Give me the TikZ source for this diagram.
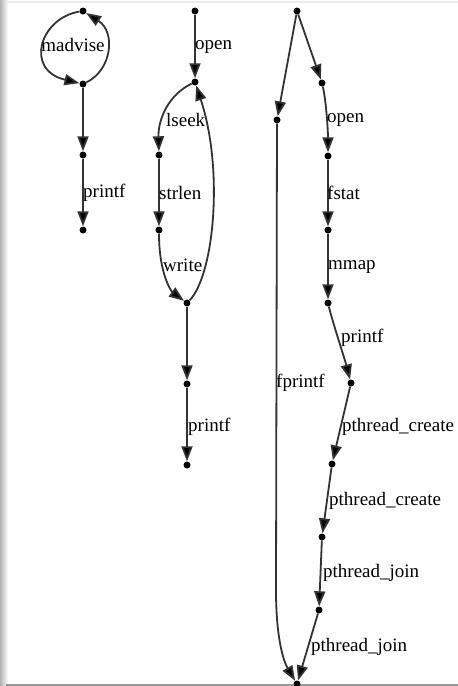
\documentclass[tikz,border=0pt]{standalone}
\usepackage{fontspec}
\setmainfont{Liberation Serif}
\usetikzlibrary{arrows.meta}
\begin{document}
\begin{tikzpicture}[x=1pt,y=-1pt,
  dot/.style={circle,fill=black,inner sep=0pt,minimum size=7pt},
  edge/.style={draw=black!80,line width=1.8pt,
    -{Triangle[length=15pt,width=11pt,fill=black]}},
  lbl/.style={anchor=west,inner sep=0pt,font=\fontsize{19}{21}\selectfont}]
% page with its shadow
\useasboundingbox (0,0) rectangle (458,686);
\fill[white] (0,0) rectangle (458,686);
\shade[left color=black!30,right color=white] (0,0) rectangle (8,686);
\fill[black!8] (6,1) rectangle (458,3);
\fill[black!40] (6,683.5) rectangle (458,686);

% first process
\node[dot] (m0) at (83,11) {};
\node[dot] (m1) at (83,84) {};
\node[dot] (m2) at (83,155) {};
\node[dot] (m3) at (83,230) {};
\draw[edge] (m0) .. controls (40,18) and (24,70) .. (m1);
\draw[edge] (m1) .. controls (112,70) and (116,32) .. (m0);
\node[lbl,anchor=center] (lm) at (73,45) {madvise};
\draw[edge] (m1) -- (m2);
\draw[edge] (m2) -- (m3);
\node[lbl] (lp1) at (83,193) {printf};

% second process
\node[dot] (o0) at (195,11) {};
\node[dot] (o1) at (195,82) {};
\node[dot] (o2) at (159,155) {};
\node[dot] (o3) at (159,230) {};
\node[dot] (o4) at (187,303) {};
\node[dot] (o5) at (187,384) {};
\node[dot] (o6) at (187,465) {};
\draw[edge] (o0) -- (o1);
\draw[edge] (o1) .. controls (168,95) and (158,120) .. (o2);
\draw[edge] (o2) -- (o3);
\draw[edge] (o3) .. controls (159,275) and (172,292) .. (o4);
\draw[edge] (o4) .. controls (214,275) and (224,170) .. (o1);
\draw[edge] (o4) -- (o5);
\draw[edge] (o5) -- (o6);
\node[lbl] (lo1) at (195,47) {open};
\node[lbl] (lo2) at (166,120) {lseek};
\node[lbl] (lo3) at (159,193) {strlen};
\node[lbl] (lo4) at (163,265) {write};
\node[lbl] (lo5) at (188,427) {printf};

% third process
\node[dot] (p0) at (297,11) {};
\node[dot] (p1) at (277,120) {};
\node[dot] (p2) at (322,83) {};
\node[dot] (p3) at (328,156) {};
\node[dot] (p4) at (328,230) {};
\node[dot] (p5) at (328,303) {};
\node[dot] (p6) at (351,383) {};
\node[dot] (p7) at (332,464) {};
\node[dot] (p8) at (322,537) {};
\node[dot] (p9) at (319,610) {};
\node[dot] (p10) at (297,684) {};
\coordinate (bend) at (276,590);
\draw[edge] (p0) -- (p1);
\draw[edge] (p0) -- (p2);
\draw[edge] (p1) -- (bend) .. controls (276,640) and (284,662) .. (p10);
\draw[edge] (p2) .. controls (326,100) and (328,130) .. (p3);
\draw[edge] (p3) -- (p4);
\draw[edge] (p4) -- (p5);
\draw[edge] (p5) .. controls (332,320) and (345,360) .. (p6);
\draw[edge] (p6) -- (p7);
\draw[edge] (p7) -- (p8);
\draw[edge] (p8) -- (p9);
\draw[edge] (p9) -- (p10);
\node[lbl] (lq0) at (276,383) {fprintf};
\node[lbl] (lq1) at (327,120) {open};
\node[lbl] (lq2) at (327,193) {fstat};
\node[lbl] (lq3) at (328,267) {mmap};
\node[lbl] (lq4) at (341,338) {printf};
\node[lbl] (lq5) at (342,427) {pthread\_create};
\node[lbl] (lq6) at (329,501) {pthread\_create};
\node[lbl] (lq7) at (323,573) {pthread\_join};
\node[lbl] (lq8) at (311,647) {pthread\_join};
\end{tikzpicture}
\end{document}
